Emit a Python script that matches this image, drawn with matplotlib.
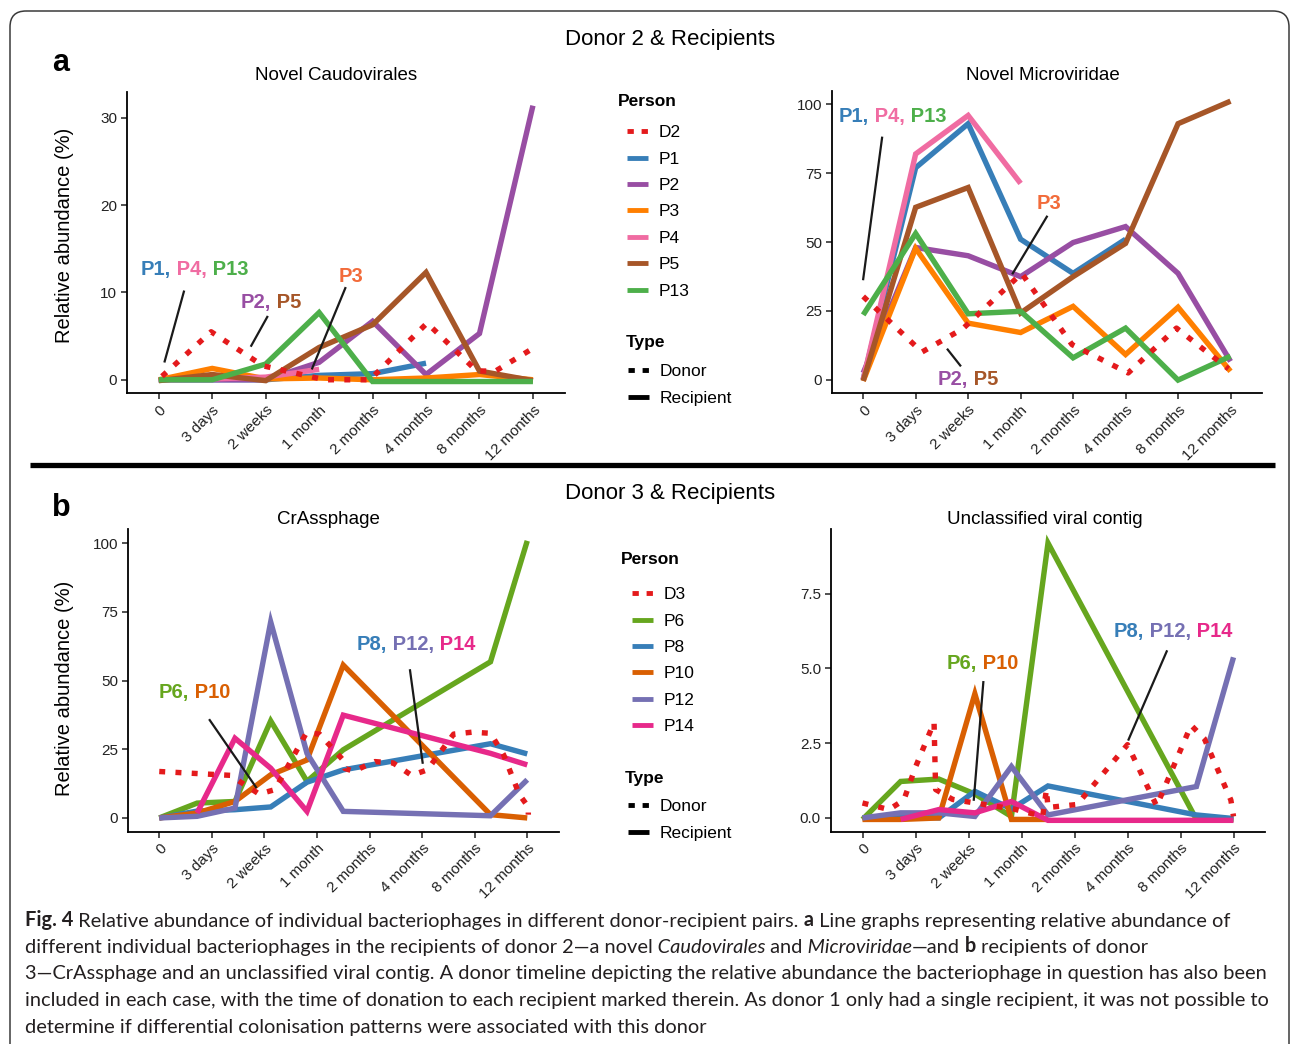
import matplotlib
matplotlib.use("Agg")
import matplotlib.pyplot as plt
from matplotlib.lines import Line2D
from matplotlib.patches import FancyBboxPatch
import numpy as np

plt.rcParams['font.family'] = ['Liberation Sans', 'DejaVu Sans']

nan = np.nan
TIME_LABELS = ["0", "3 days", "2 weeks", "1 month", "2 months", "4 months", "8 months", "12 months"]

# ---- Donor 2 panels: recipients sampled at the tick positions
XA = [0, 1, 2, 3, 4, 5, 6, 7]

CAUDO_D2_X = [0.06, 0.98, 1.95, 3.1, 3.95, 5.02, 5.95, 6.3, 7.0]
CAUDO_D2_Y = [0.4, 5.5, 1.6, 0.0, 0.0, 6.5, 1.0, 1.0, 3.6]
CAUDO_P1 = [0, 0, 0, 0.5, 0.7, 1.9, nan, nan]
CAUDO_P2 = [0, 0, 0, 2.0, 6.7, 0.6, 5.3, 31.4]
CAUDO_P3 = [0, 1.3, 0.1, 0.2, 0.0, 0.2, 0.6, 0.0]
CAUDO_P4 = [0, 0.1, 0.3, 1.2, nan, nan, nan, nan]
CAUDO_P5 = [-0.1, 0.6, -0.1, 3.7, 6.3, 12.3, 1.0, -0.1]
CAUDO_P13 = [0, 0, 1.8, 7.7, -0.2, -0.2, -0.2, -0.2]

MICRO_D2_X = [0, 1.12, 1.9, 3.02, 3.98, 5.05, 5.97, 6.96]
MICRO_D2_Y = [30.2, 10.0, 18.5, 38.6, 12.7, 2.4, 18.7, 3.9]
MICRO_P1 = [0, 77, 93, 51, 38.6, 51, nan, nan]
MICRO_P2 = [2.4, 48, 45, 37.4, 49.8, 55.6, 38.6, 6.6]
MICRO_P3 = [-0.5, 47.7, 20.5, 17.1, 26.6, 9.1, 26.3, 3.0]
MICRO_P4 = [0, 82, 96, 71.3, nan, nan, nan, nan]
MICRO_P5 = [-0.5, 62.6, 69.8, 24.2, 37.4, 49.5, 93, 101.2]
MICRO_P13 = [23.5, 53.1, 23.9, 24.8, 7.9, 18.7, -0.2, 8.5]

# ---- Donor 3 panels: recipients sampled off the tick positions
XB = [0, 0.72, 1.44, 2.12, 2.81, 3.5, 6.3, 7.0]

CRASS_D3_X = [0, 1.35, 1.9, 2.2, 2.8, 3.05, 3.5, 3.53, 3.7, 4.1, 4.45, 4.8, 5.1, 5.6,
              5.95, 6.3, 6.55, 6.85, 7.02, 7.02]
CRASS_D3_Y = [16.9, 15.5, 8.7, 10.3, 31.0, 30.5, 21.0, 18.0, 17.0, 20.5, 20.0, 15.5, 17.5, 30.5,
              31.2, 30.8, 23.0, 8.5, 4.0, 1.2]
CRASS_P6 = [0, 5.4, 6.0, 35.3, 13.3, 24.8, 56.8, 100.8]
CRASS_P8 = [0, 2.5, 3.0, 4.0, 13.0, 17.5, 27.0, 23.3]
CRASS_P10 = [0, 1.8, 6.0, 15.7, 21.1, 55.6, 1.2, 0.0]
CRASS_P12 = [0, 0.6, 3.6, 71.3, 23.5, 2.4, 0.8, 13.9]
CRASS_P14 = [nan, 1.8, 29.0, 18.1, 2.4, 37.4, 23.5, 19.3]

UNCL_D3_X = [0, 0.5, 0.78, 1.0, 1.35, 1.38, 1.7, 2.3, 2.85, 3.4, 3.47, 3.5, 4.05, 5.0, 5.55,
             6.2, 6.45, 6.95, 7.0]
UNCL_D3_Y = [0.5, 0.28, 0.6, 1.7, 3.2, 0.95, 0.62, 0.45, 0.3, 0.05, 0.95, 0.35, 0.45, 2.45, 0.4,
             3.1, 2.65, 0.6, 0.05]
UNCL_P6 = [-0.05, 1.22, 1.3, 0.8, 0.05, 9.19, -0.05, -0.05]
UNCL_P8 = [0, 0.05, 0, 0.89, 0.3, 1.07, 0.1, -0.02]
UNCL_P10 = [-0.05, -0.05, 0, 4.15, -0.05, -0.05, nan, nan]
UNCL_P12 = [0, 0.17, 0.17, 0.05, 1.72, 0.1, 1.05, 5.37]
UNCL_P14 = [nan, -0.05, 0.28, 0.17, 0.55, -0.08, -0.08, -0.08]

COL = {"D2": "#E41A1C", "P1": "#377EB8", "P2": "#984EA3", "P3": "#FF7F00",
       "P4": "#F06CA2", "P5": "#A65628", "P13": "#4DAF4A",
       "D3": "#E41A1C", "P6": "#66A61E", "P8": "#377EB8", "P10": "#D95F02",
       "P12": "#7570B3", "P14": "#E7298A"}

LW = 3.9
DOTS = (0, (1.1, 1.9))

W, H = 1292, 1044
fig = plt.figure(figsize=(W / 100, H / 100), dpi=100)


def px_axes(x0, x1, y0, y1):
    return fig.add_axes([x0 / W, 1 - y1 / H, (x1 - x0) / W, (y1 - y0) / H])


def style_axes(ax, ylim, yticks, ylabels):
    ax.set_xlim(-0.6, 7.6)
    ax.set_ylim(*ylim)
    ax.set_xticks(range(8))
    ax.set_xticklabels(TIME_LABELS, rotation=45, ha='right', rotation_mode='anchor')
    ax.set_yticks(yticks)
    ax.set_yticklabels(ylabels)
    for s in ['top', 'right']:
        ax.spines[s].set_visible(False)
    for s in ['left', 'bottom']:
        ax.spines[s].set_linewidth(1.3)
    ax.tick_params(length=4, width=1.1, labelsize=11, colors='#222222', pad=3)
    ax.patch.set_alpha(0)


def draw(ax, xr, series, dx, dy, dname):
    for name, vals in series:
        ax.plot(xr, vals, color=COL[name], lw=LW, solid_capstyle='butt', solid_joinstyle='miter')
    ax.plot(dx, dy, color=COL[dname], lw=LW, linestyle=DOTS, dash_capstyle='butt')


def label(ax, x, y, parts, size=14.5):
    prev = ax.text(x, y, parts[0][0], color=parts[0][1], fontsize=size,
                   fontweight='bold', ha='left', va='center')
    for txt, c in parts[1:]:
        prev = ax.annotate(txt, xy=(1, 0), xycoords=prev, color=c, fontsize=size,
                           fontweight='bold', ha='left', va='bottom')


def leader(ax, p0, p1):
    ax.plot([p0[0], p1[0]], [p0[1], p1[1]], color='#1a1a1a', lw=1.6)


# ---- panel a
ax1 = px_axes(126.7, 565, 91.7, 393.3)
draw(ax1, XA, [("P1", CAUDO_P1), ("P2", CAUDO_P2), ("P3", CAUDO_P3), ("P4", CAUDO_P4),
               ("P5", CAUDO_P5), ("P13", CAUDO_P13)], CAUDO_D2_X, CAUDO_D2_Y, "D2")
style_axes(ax1, (-1.55, 33.0), [0, 10, 20, 30], ["0", "10", "20", "30"])
label(ax1, -0.34, 12.6, [("P1,", COL["P1"]), (" P4,", COL["P4"]), (" P13", COL["P13"])])
leader(ax1, (0.47, 10.1), (0.11, 2.1))
label(ax1, 1.53, 8.9, [("P2,", COL["P2"]), (" P5", COL["P5"])])
leader(ax1, (2.03, 7.2), (1.73, 3.9))
label(ax1, 3.36, 11.8, [("P3", "#F26B3A")])
leader(ax1, (3.49, 10.5), (2.87, 1.3))

ax2 = px_axes(831.7, 1262, 90.7, 393.3)
draw(ax2, XA, [("P1", MICRO_P1), ("P2", MICRO_P2), ("P3", MICRO_P3), ("P4", MICRO_P4),
               ("P5", MICRO_P5), ("P13", MICRO_P13)], MICRO_D2_X, MICRO_D2_Y, "D2")
style_axes(ax2, (-5, 105), [0, 25, 50, 75, 100], ["0", "25", "50", "75", "100"])
label(ax2, -0.46, 95.6, [("P1,", COL["P1"]), (" P4,", COL["P4"]), (" P13", COL["P13"])])
leader(ax2, (0.36, 87.9), (0.0, 36.5))
label(ax2, 3.30, 64, [("P3", "#F26B3A")])
leader(ax2, (3.50, 59.2), (2.85, 38.6))
label(ax2, 1.41, 0, [("P2,", COL["P2"]), (" P5", COL["P5"])])
leader(ax2, (1.61, 10.9), (1.85, 5.1))

# ---- panel b
ax3 = px_axes(127.7, 558.8, 529.3, 831.7)
draw(ax3, XB, [("P6", CRASS_P6), ("P8", CRASS_P8), ("P10", CRASS_P10), ("P12", CRASS_P12),
               ("P14", CRASS_P14)], CRASS_D3_X, CRASS_D3_Y, "D3")
style_axes(ax3, (-5, 105), [0, 25, 50, 75, 100], ["0", "25", "50", "75", "100"])
label(ax3, -0.02, 45.5, [("P6,", COL["P6"]), (" P10", COL["P10"])])
leader(ax3, (0.96, 35.6), (1.84, 11.2))
label(ax3, 3.75, 63.2, [("P8,", COL["P8"]), (" P12,", COL["P12"]), (" P14", COL["P14"])])
leader(ax3, (4.77, 53.7), (5.01, 20.1))

ax4 = px_axes(830.7, 1265.3, 529.3, 831.7)
draw(ax4, XB, [("P6", UNCL_P6), ("P8", UNCL_P8), ("P10", UNCL_P10), ("P12", UNCL_P12),
               ("P14", UNCL_P14)], UNCL_D3_X, UNCL_D3_Y, "D3")
style_axes(ax4, (-0.46, 9.65), [0, 2.5, 5, 7.5], ["0.0", "2.5", "5.0", "7.5"])
label(ax4, 1.59, 5.15, [("P6,", COL["P6"]), (" P10", COL["P10"])])
leader(ax4, (2.28, 4.54), (2.10, 0.61))
label(ax4, 4.74, 6.23, [("P8,", COL["P8"]), (" P12,", COL["P12"]), (" P14", COL["P14"])])
leader(ax4, (5.74, 5.57), (5.02, 2.62))

# ---- legends (titles drawn separately so they sit left of the keys)
KEY_DOTS = (0, (1.3, 1.6))


def key_legend(handles, labels, x, y_first):
    fig.legend(handles, labels, loc='upper left', bbox_to_anchor=(x / W, 1 - (y_first - 6) / H),
               frameon=False, fontsize=12.5, handlelength=1.2, handletextpad=0.6,
               labelspacing=0.65, borderaxespad=0, borderpad=0)


def legends(names, donor, person_xy, person_keys, type_xy, type_keys):
    fig.text(person_xy[0] / W, 1 - person_xy[1] / H, "Person", fontsize=12.5, fontweight='bold',
             ha='left', va='center')
    hs = [Line2D([], [], color=COL[donor], lw=3.5, linestyle=KEY_DOTS, dash_capstyle='butt')]
    hs += [Line2D([], [], color=COL[n], lw=3.5, solid_capstyle='butt') for n in names]
    key_legend(hs, [donor] + names, *person_keys)
    fig.text(type_xy[0] / W, 1 - type_xy[1] / H, "Type", fontsize=12.5, fontweight='bold',
             ha='left', va='center')
    th = [Line2D([], [], color='black', lw=3.5, linestyle=KEY_DOTS, dash_capstyle='butt'),
          Line2D([], [], color='black', lw=3.5, solid_capstyle='butt')]
    key_legend(th, ['Donor', 'Recipient'], *type_keys)


legends(["P1", "P2", "P3", "P4", "P5", "P13"], "D2", (618, 102), (627, 131), (626, 343), (628, 370))
legends(["P6", "P8", "P10", "P12", "P14"], "D3", (621, 560), (632, 593), (625, 778), (628, 805))

# ---- titles and panel letters
fig.text(670 / W, 1 - 40 / H, "Donor 2 & Recipients", ha='center', va='center', fontsize=16)
fig.text(670 / W, 1 - 494 / H, "Donor 3 & Recipients", ha='center', va='center', fontsize=16)
fig.text(336 / W, 1 - 75 / H, "Novel Caudovirales", ha='center', va='center', fontsize=13.5)
fig.text(1043 / W, 1 - 75 / H, "Novel Microviridae", ha='center', va='center', fontsize=13.5)
fig.text(328 / W, 1 - 519 / H, "CrAssphage", ha='center', va='center', fontsize=13.5)
fig.text(1045 / W, 1 - 519 / H, "Unclassified viral contig", ha='center', va='center', fontsize=13.5)
fig.text(61 / W, 1 - 63 / H, "a", ha='center', va='center', fontsize=22, fontweight='bold')
fig.text(61 / W, 1 - 508 / H, "b", ha='center', va='center', fontsize=22, fontweight='bold')
fig.text(65 / W, 1 - 235 / H, "Relative abundance (%)", ha='center', va='center', rotation=90, fontsize=14.5)
fig.text(65 / W, 1 - 688 / H, "Relative abundance (%)", ha='center', va='center', rotation=90, fontsize=14.5)

# ---- frame and separator
bg = fig.add_axes([0, 0, 1, 1], zorder=-5)
bg.set_xlim(0, W)
bg.set_ylim(H, 0)
bg.axis('off')
bg.add_patch(FancyBboxPatch((10, 11), W - 13, 1200, boxstyle="round,pad=0,rounding_size=16",
                            fill=False, ec='#3a3a3a', lw=1.1))
bg.plot([30, 1275], [465, 465], color='black', lw=3.8, solid_capstyle='butt')

# ---- caption
CAP_FONT = ['Lato', 'DejaVu Sans']
CAP_COLOR = '#231F20'
CAPTION = [
    [("Fig. 4", 'b'), (" Relative abundance of individual bacteriophages in different donor-recipient pairs.", 'n'),
     (" a", 'b'), (" Line graphs representing relative abundance of", 'n')],
    [("different individual bacteriophages in the recipients of donor 2\u2014a novel", 'n'),
     (" Caudovirales", 'i'), (" and", 'n'), (" Microviridae", 'i'), ("\u2014and", 'n'), (" b", 'b'),
     (" recipients of donor", 'n')],
    [("3\u2014CrAssphage and an unclassified viral contig. A donor timeline depicting the relative abundance "
      "the bacteriophage in question has also been", 'n')],
    [("included in each case, with the time of donation to each recipient marked therein. As donor 1 only "
      "had a single recipient, it was not possible to", 'n')],
    [("determine if differential colonisation patterns were associated with this donor", 'n')],
]

renderer = fig.canvas.get_renderer()
probe = fig.text(0, 0, CAPTION[2][0][0], fontsize=12, family=CAP_FONT)
wpx = probe.get_window_extent(renderer).width
probe.remove()
cap_size = 12 * 1239 / wpx

for i, runs in enumerate(CAPTION):
    ybase = 926 + i * 26.75
    prev = None
    for txt, st in runs:
        kw = dict(fontsize=cap_size, family=CAP_FONT, color=CAP_COLOR,
                  fontweight='bold' if st == 'b' else 'normal',
                  fontstyle='italic' if st == 'i' else 'normal')
        if prev is None:
            prev = fig.text(25 / W, 1 - ybase / H, txt, ha='left', va='baseline', **kw)
        else:
            prev = bg.annotate(txt, xy=(1, 0), xycoords=prev, ha='left', va='bottom', **kw)

fig.savefig("out.png", dpi=100)
